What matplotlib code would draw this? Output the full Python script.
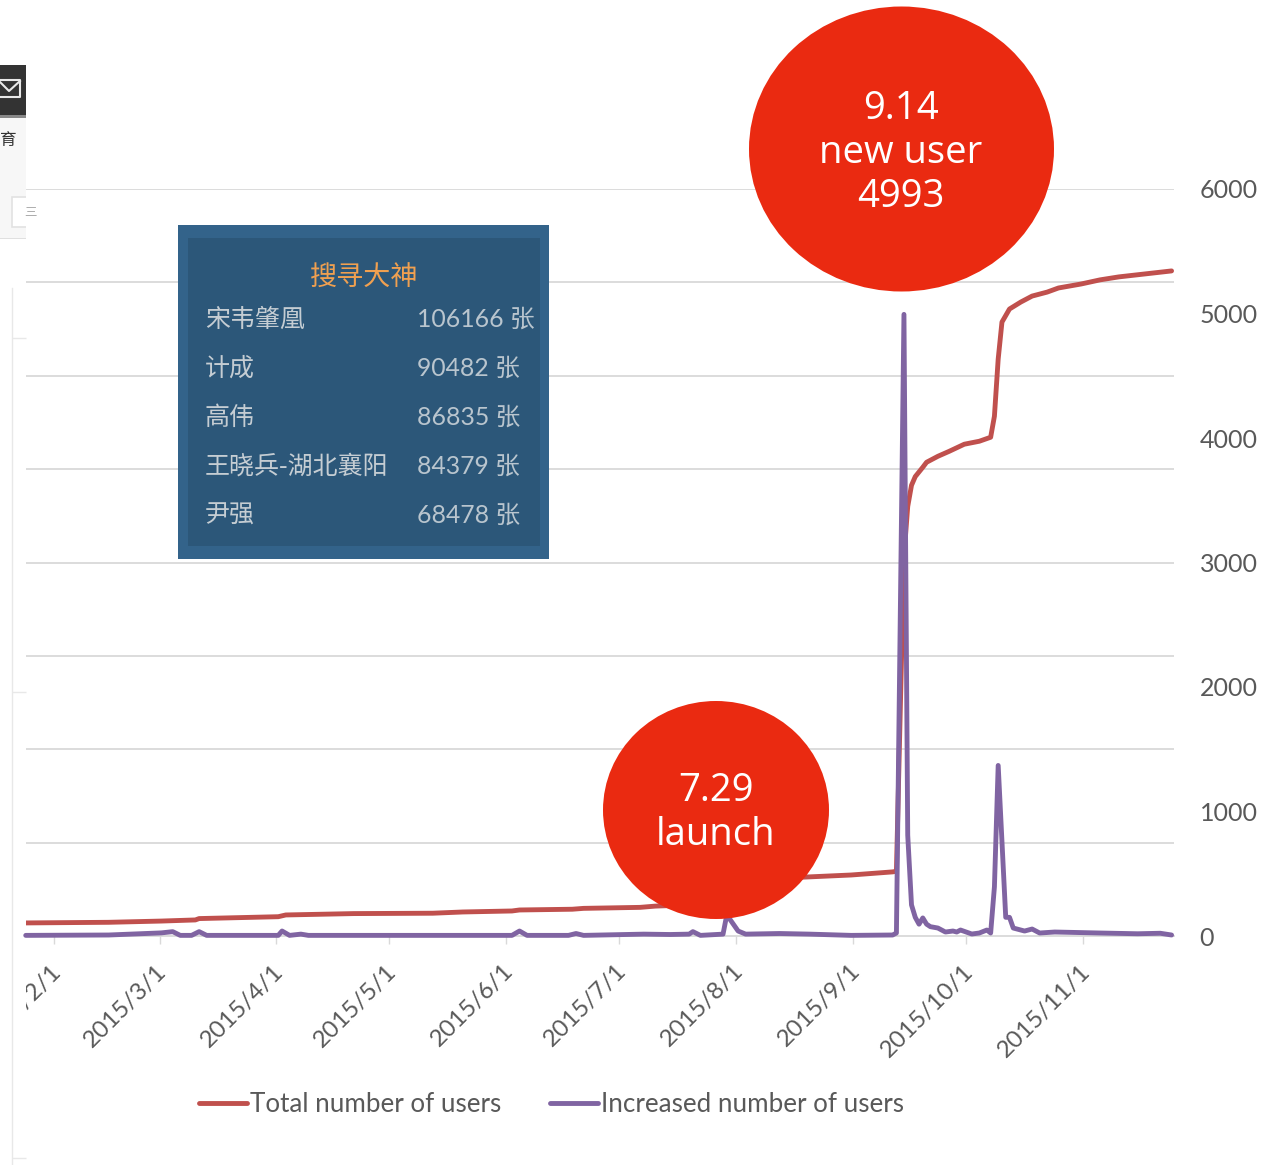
"""
Total vs. increased users, 2015, with the launch callouts and the ranking panel.
Writes: out.png
"""

import matplotlib
matplotlib.use("Agg")
import matplotlib.dates as mdates
import matplotlib.pyplot as plt
import pandas as pd
from matplotlib.patches import Ellipse, Rectangle
from matplotlib.transforms import ScaledTranslation

OUTPUT_PNG = "out.png"

TOTAL_DATES = [
    "2015-01-24", "2015-02-15", "2015-03-01", "2015-03-10", "2015-03-11", "2015-04-01",
    "2015-04-03", "2015-04-21", "2015-05-12", "2015-05-20", "2015-06-02", "2015-06-04",
    "2015-06-18", "2015-06-21", "2015-07-06", "2015-07-10", "2015-07-28", "2015-07-29",
    "2015-08-01", "2015-08-20", "2015-08-31", "2015-09-11", "2015-09-12", "2015-09-14",
    "2015-09-15", "2015-09-16", "2015-09-17", "2015-09-19", "2015-09-20", "2015-09-23",
    "2015-09-26", "2015-09-30", "2015-10-04", "2015-10-07", "2015-10-08", "2015-10-09",
    "2015-10-10", "2015-10-12", "2015-10-15", "2015-10-18", "2015-10-22", "2015-10-25",
    "2015-10-31", "2015-11-05", "2015-11-10", "2015-11-17", "2015-11-24",
]
TOTAL_USERS = [
    105, 110, 120, 129, 140, 155,
    169, 180, 183, 193, 201, 209,
    215, 222, 230, 240, 260, 430,
    450, 475, 490, 515, 520, 3050,
    3450, 3620, 3690, 3765, 3805, 3853,
    3893, 3950, 3974, 4006, 4175, 4634,
    4931, 5036, 5092, 5140, 5172, 5205,
    5237, 5270, 5294, 5318, 5342,
]

NEW_DATES = [
    "2015-01-24", "2015-02-15", "2015-03-01", "2015-03-04", "2015-03-06", "2015-03-09",
    "2015-03-11", "2015-03-13", "2015-04-01", "2015-04-02", "2015-04-04", "2015-04-07",
    "2015-04-09", "2015-06-02", "2015-06-04", "2015-06-06", "2015-06-17", "2015-06-19",
    "2015-06-21", "2015-07-07", "2015-07-14", "2015-07-19", "2015-07-20", "2015-07-22",
    "2015-07-28", "2015-07-29", "2015-08-01", "2015-08-03", "2015-08-12", "2015-08-20",
    "2015-08-31", "2015-09-11", "2015-09-12", "2015-09-14", "2015-09-15", "2015-09-16",
    "2015-09-17", "2015-09-18", "2015-09-19", "2015-09-20", "2015-09-21", "2015-09-23",
    "2015-09-25", "2015-09-27", "2015-09-28", "2015-09-29", "2015-10-02", "2015-10-04",
    "2015-10-06", "2015-10-07", "2015-10-08", "2015-10-09", "2015-10-10", "2015-10-11",
    "2015-10-12", "2015-10-13", "2015-10-16", "2015-10-18", "2015-10-20", "2015-10-24",
    "2015-11-05", "2015-11-15", "2015-11-21", "2015-11-24",
]
NEW_USERS = [
    5, 8, 25, 35, 5, 5,
    35, 5, 5, 40, 5, 15,
    5, 5, 40, 5, 5, 20,
    5, 15, 12, 15, 35, 5,
    15, 170, 40, 15, 20, 15,
    5, 8, 24, 4993, 810, 250,
    150, 95, 145, 95, 75, 64,
    32, 40, 32, 48, 16, 24,
    48, 24, 395, 1370, 760, 150,
    150, 64, 40, 56, 24, 32,
    24, 18, 22, 8,
]

TICK_DATES = ["2015-02-01", "2015-03-01", "2015-04-01", "2015-05-01", "2015-06-01",
              "2015-07-01", "2015-08-01", "2015-09-01", "2015-10-01", "2015-11-01"]
TICK_LABELS = ["2015/2/1", "2015/3/1", "2015/4/1", "2015/5/1", "2015/6/1",
               "2015/7/1", "2015/8/1", "2015/9/1", "2015/10/1", "2015/11/1"]
Y_TICKS = [0, 1000, 2000, 3000, 4000, 5000, 6000]
GRID_LEVELS = [750, 1500, 2250, 3000, 3750, 4500, 5250, 6000]

PANEL_TITLE = "搜寻大神"
PANEL_NAMES = ["宋韦肇凰", "计成", "高伟", "王晓兵-湖北襄阳", "尹强"]
PANEL_COUNTS = ["106166 张", "90482 张", "86835 张", "84379 张", "68478 张"]

W, H = 1276, 1165
RED = "#C0504D"
PURPLE = "#8064A2"
GRID = "#D9D9D9"
TEXT = "#595959"
CALLOUT = "#EA2A11"
CJK = ["Noto Sans CJK SC", "DejaVu Sans"]


def main():
    plt.rcParams["font.family"] = "Lato"
    fig = plt.figure(figsize=(W / 100, H / 100), dpi=100, facecolor="white")
    ax = fig.add_axes([26 / W, 1 - 936 / H, 1148 / W, 747 / H])

    # Excel puts the month ticks half a category before the data point
    tick_x = mdates.date2num(pd.to_datetime(TICK_DATES)) - 0.5
    ax.set_xlim(tick_x[0] - 28 / 3.769, tick_x[-1] + 91 / 3.769)
    ax.set_ylim(0, 6000)

    ax.hlines(GRID_LEVELS, *ax.get_xlim(), color=GRID, lw=1.3, zorder=1)
    ax.plot(pd.to_datetime(TOTAL_DATES), TOTAL_USERS, color=RED, lw=3.5, zorder=3,
            label="Total number of users", solid_capstyle="round")
    ax.plot(pd.to_datetime(NEW_DATES), NEW_USERS, color=PURPLE, lw=3.5, zorder=4,
            label="Increased number of users", solid_capstyle="round", clip_on=False)

    for side in ("top", "left", "right"):
        ax.spines[side].set_visible(False)
    ax.spines["bottom"].set_color(GRID)
    ax.spines["bottom"].set_linewidth(1.3)
    ax.patch.set_visible(False)

    ax.set_xticks(tick_x)
    ax.set_xticklabels(TICK_LABELS, rotation=45, ha="right", rotation_mode="anchor",
                       fontsize=17.5, color=TEXT)
    ax.tick_params(axis="x", length=6, width=1, color=GRID, pad=11.5)
    shift = ScaledTranslation(-2.5 / 72, 0, fig.dpi_scale_trans)
    for label in ax.get_xticklabels():
        label.set_transform(label.get_transform() + shift)

    ax.yaxis.tick_right()
    ax.set_yticks(Y_TICKS)
    ax.tick_params(axis="y", length=0, labelsize=18, labelcolor=TEXT, pad=18.5)

    leg = ax.legend(loc="lower left", bbox_to_anchor=(180 / 1148 - 0.0065, -0.2427), ncol=2,
                    frameon=False, fontsize=18.7, handlelength=1.85, handletextpad=0.12,
                    columnspacing=1.9, labelcolor=TEXT, borderaxespad=0, borderpad=0)
    for line in leg.get_lines():
        line.set_linewidth(3.5)

    # everything below sits on top of the chart, laid out in image pixels
    over = fig.add_axes([0, 0, 1, 1], zorder=5)
    over.set_xlim(0, W)
    over.set_ylim(H, 0)
    over.axis("off")

    # the callouts
    over.add_patch(Ellipse((901.5, 149), 305, 285, color=CALLOUT, lw=0))
    over.text(901, 153, "9.14\nnew user\n4993", ha="center", va="center", color="white",
              fontsize=27.5, family="Open Sans", linespacing=1.19)
    over.add_patch(Ellipse((716, 810), 226, 218, color=CALLOUT, lw=0))
    over.text(716, 813, "7.29\nlaunch", ha="center", va="center", color="white",
              fontsize=27.5, family="Open Sans", linespacing=1.19)

    # ranking panel
    over.add_patch(Rectangle((178, 225), 371, 334, color="#33638A", lw=0))
    over.add_patch(Rectangle((188, 238), 352, 308, color="#2C5779", lw=0))
    over.text(364, 278, PANEL_TITLE, ha="center", va="center", color="#F0A050",
              fontsize=19.5, family=CJK)
    for i, (name, count) in enumerate(zip(PANEL_NAMES, PANEL_COUNTS)):
        y = 320 + i * 49
        over.text(205, y, name, va="center", color="#C5CDD3", fontsize=18, family=CJK)
        over.text(417, y - 1, count, va="center", color="#B9C5CE", fontsize=17.8, family=["Lato"] + CJK)

    # scraps of the screenshot behind the chart, down the left edge
    over.add_patch(Rectangle((0, 945), 26, 115, color="white", lw=0))
    over.add_patch(Rectangle((0, 65), 26, 50, color="#333333", lw=0))
    over.add_patch(Rectangle((0, 115), 26, 2.5, color="#888888", lw=0))
    over.add_patch(Rectangle((0, 117.5), 26, 120, color="#F7F7F7", lw=0))
    over.add_patch(Rectangle((0, 237.5), 26, 1.5, color="#E0E0E0", lw=0))
    over.add_patch(Rectangle((11.5, 197), 20, 30, fc="white", ec="#E2E2E2", lw=1.2))
    over.text(24, 212, "三", ha="left", va="center", fontsize=9, color="#AAAAAA", family=CJK)
    over.add_patch(Rectangle((26, 190), 14, 45, color="white", lw=0))
    over.plot([0, 20, 20, 0], [80, 80, 97, 97], color="#E8E8E8", lw=1.5)
    over.plot([0, 9, 20], [82, 91, 81], color="#E8E8E8", lw=1.5)
    over.text(8, 141, "育", ha="center", va="center", fontsize=12, color="#333333", family=CJK)
    over.plot([12, 12], [288, 1165], color="#E8E8E8", lw=1)
    over.hlines([338, 692, 1158], 12, 26, color="#E8E8E8", lw=1)

    fig.savefig(OUTPUT_PNG, dpi=100)
    print(f"Saved plot to {OUTPUT_PNG}")


if __name__ == "__main__":
    main()
